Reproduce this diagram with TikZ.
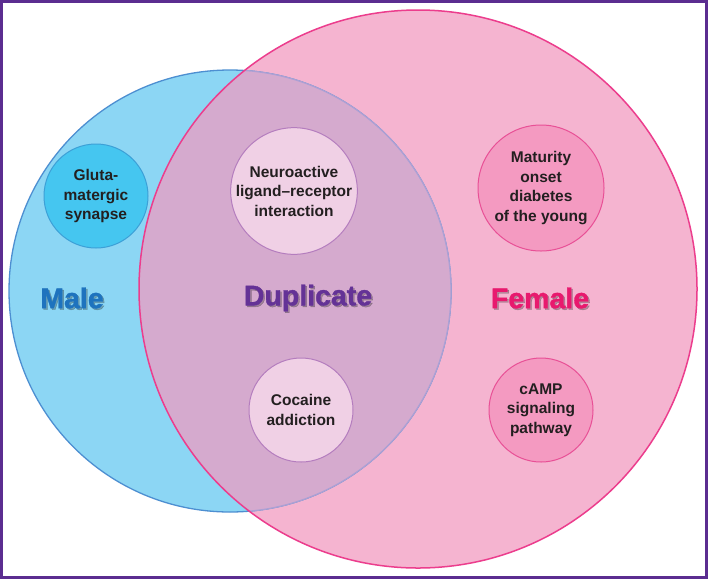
\documentclass[tikz,border=0pt]{standalone}
\usepackage{fontspec}
\setmainfont{Liberation Sans}
\newfontfamily\heavyfont[FakeBold=1.2]{Liberation Sans}
\usepackage{xcolor}
\definecolor{framepurple}{RGB}{91, 45, 144}
\definecolor{malefill}{RGB}{140, 214, 244}
\definecolor{maleline}{RGB}{77, 143, 209}
\definecolor{femalefill}{RGB}{245, 180, 208}
\definecolor{femaleline}{RGB}{236, 61, 141}
\definecolor{dupfill}{RGB}{213, 170, 206}
\definecolor{dupline}{RGB}{172, 160, 212}
\definecolor{glutfill}{RGB}{69, 198, 240}
\definecolor{glutline}{RGB}{60, 160, 215}
\definecolor{pairfill}{RGB}{240, 208, 229}
\definecolor{pairline}{RGB}{180, 125, 190}
\definecolor{femsfill}{RGB}{244, 154, 193}
\definecolor{femsline}{RGB}{232, 80, 150}
\definecolor{malelab}{RGB}{30, 115, 190}
\definecolor{duplab}{RGB}{100, 50, 150}
\definecolor{femalelab}{RGB}{232, 25, 110}
\definecolor{textdark}{RGB}{35, 31, 32}

\begin{document}
\begin{tikzpicture}[x=1pt, y=-1pt,
    pathway/.style={circle, draw, line width=1pt, align=center, inner sep=0pt,
      text=textdark, font=\fontsize{15.5}{19.5}\selectfont\bfseries},
    setname/.style={font=\fontsize{28.5}{32}\selectfont\heavyfont\bfseries},
    shade/.style={setname, text=black, opacity=0.25}]
    \useasboundingbox (0,0) rectangle (708,579);

    % Marco
    \fill[white] (0,0) rectangle (708,579);
    \draw[framepurple, line width=3pt] (1.5,1.5) rectangle (706.5,577.5);

    % Circulos grandes
    \fill[femalefill] (418,289) circle (279pt);
    \fill[malefill] (230,291) circle (221pt);
    \draw[maleline, line width=1.3pt] (230,291) circle (221pt);
    \begin{scope}
      \clip (418,289) circle (279pt);
      \fill[dupfill] (230,291) circle (221pt);
      \draw[dupline, line width=1.3pt] (230,291) circle (221pt);
    \end{scope}
    \draw[femaleline, line width=1.5pt] (418,289) circle (279pt);

    % Nombres de los conjuntos
    \node[shade] at (73.5,299.5) {Male};
    \node[setname, text=malelab] (male) at (72,298) {Male};
    \node[shade] at (309.5,299.5) {Duplicate};
    \node[setname, text=duplab] (dup) at (308,298) {Duplicate};
    \node[shade] at (541.5,299.5) {Female};
    \node[setname, text=femalelab] (female) at (540,298) {Female};

    % Vias
    \node[pathway, fill=glutfill, draw=glutline, minimum size=104pt]
      (glut) at (96,196) {Gluta-\\matergic\\synapse};
    \node[pathway, fill=pairfill, draw=pairline, minimum size=124pt]
      (neuro) at (294,191) {Neuroactive\\ligand--receptor\\interaction};
    \node[pathway, fill=pairfill, draw=pairline, minimum size=104pt]
      (coca) at (301,410) {Cocaine\\addiction};
    \node[pathway, fill=femsfill, draw=femsline, minimum size=126pt]
      (mody) at (541,188) {Maturity\\onset\\diabetes\\of the young};
    \node[pathway, fill=femsfill, draw=femsline, minimum size=104pt]
      (camp) at (541,410) {cAMP\\signaling\\pathway};
\end{tikzpicture}
\end{document}
